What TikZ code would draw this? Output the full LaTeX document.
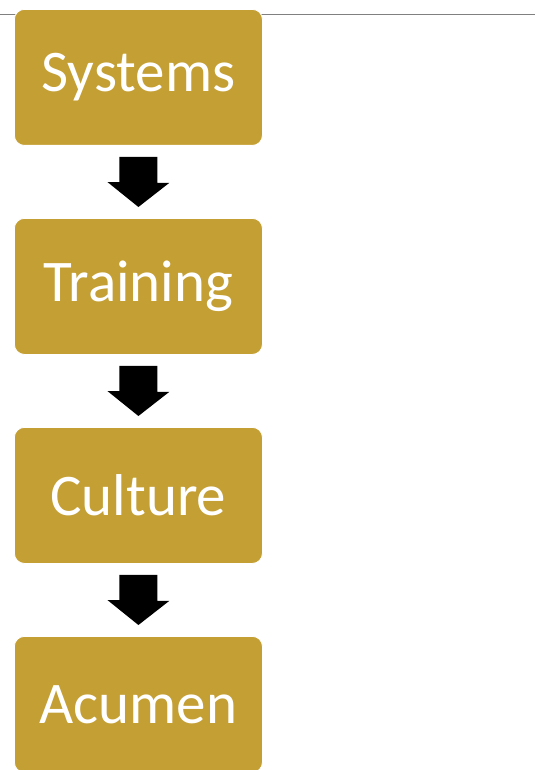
\documentclass[tikz,border=0pt]{standalone}
\usepackage{fontspec}
\setmainfont{Carlito}
\definecolor{gold}{RGB}{196,159,51}
\definecolor{rule}{RGB}{128,128,128}
\newcommand{\stagetext}[1]{\raisebox{-2pt}{#1}}
\begin{document}
\begin{tikzpicture}[x=1pt,y=-1pt,
  stagebox/.style={fill=gold, draw=white, line width=0.8pt, rounded corners=10pt,
    minimum width=248pt, minimum height=136pt, inner sep=0pt, text=white,
    font=\fontsize{59}{62}\selectfont, anchor=north west},
  blockarrow/.style={fill=black}]
\useasboundingbox (0,0) rectangle (535,770);
\draw[rule, line width=1pt] (0,15) -- (535,15);
\node[stagebox] (s1) at (14,9) {\stagetext{Systems}};
\node[stagebox] (s2) at (14,218) {\stagetext{Training}};
\node[stagebox] (s3) at (14,427) {\stagetext{Culture}};
\node[stagebox] (s4) at (14,636) {\stagetext{Acumen}};
\foreach \a/\b in {s1/s2, s2/s3, s3/s4}{
  \path (\a.south) ++(0,11) coordinate (top-\a);
  \path (\b.north) ++(0,-11) coordinate (tip-\a);
  \fill[blockarrow] (top-\a) ++(-19,0) -- ++(38,0) -- ++(0,26) -- ++(12,0)
     -- (tip-\a) -- ++(-31,-25) -- ++(12,0) -- cycle;
}
\end{tikzpicture}
\end{document}
